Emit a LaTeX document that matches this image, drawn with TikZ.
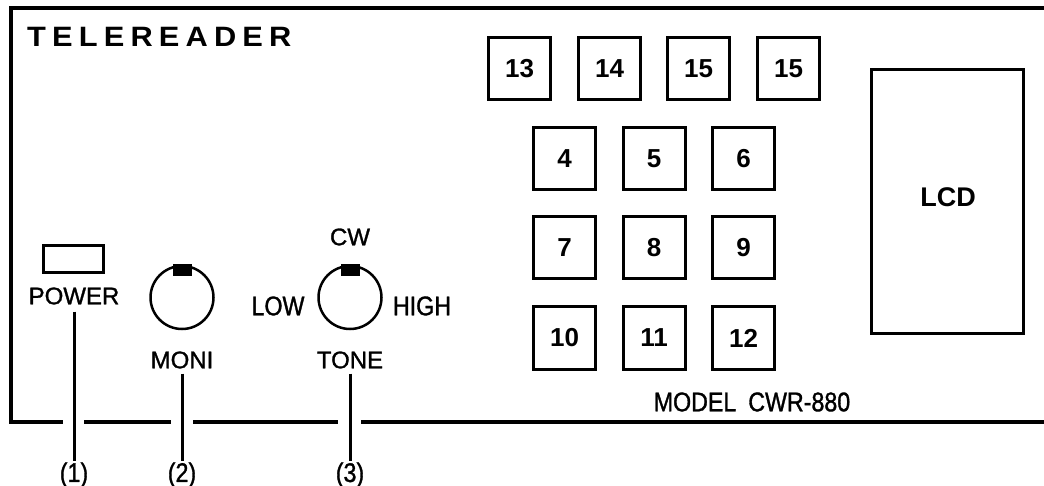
\documentclass[tikz,border=0pt]{standalone}
\usepackage{fontspec}
\setmainfont{Liberation Sans}
\newfontfamily\lblfont[FakeBold=1.2]{Liberation Sans}
\newfontfamily\narrowfont[FakeStretch=0.86,FakeBold=1.2]{Liberation Sans}
\newfontfamily\titlefont[FakeStretch=1.1,LetterSpace=22]{Liberation Sans}
\begin{document}
\begin{tikzpicture}[x=1pt,y=-1pt,
  frameline/.style={line width=4pt},
  keybox/.style={draw, line width=3pt, minimum size=62pt, inner sep=0pt,
    font=\fontsize{26}{26}\selectfont\bfseries},
  lbl/.style={inner sep=0pt, font=\lblfont\fontsize{24}{24}\selectfont},
  nlbl/.style={inner sep=0pt, font=\narrowfont\fontsize{27}{27}\selectfont},
  knob/.style={draw, circle, line width=2.5pt, minimum size=63pt, inner sep=0pt},
  indic/.style={fill=black, minimum width=19pt, minimum height=12pt, inner sep=0pt, anchor=north},
  leader/.style={line width=3pt}]
\useasboundingbox (0,0) rectangle (1044,486);

% frame
\coordinate (tr) at (1046,8);
\coordinate (tl) at (11,8);
\coordinate (bl) at (11,422);
\coordinate (g1a) at (63,422); \coordinate (g1b) at (84,422);
\coordinate (g2a) at (171,422); \coordinate (g2b) at (193,422);
\coordinate (g3a) at (338,422); \coordinate (g3b) at (361,422);
\coordinate (br) at (1046,422);
\draw[frameline] (tr) -- (tl) -- (bl) -- (g1a);
\draw[frameline] (g1b) -- (g2a);
\draw[frameline] (g2b) -- (g3a);
\draw[frameline] (g3b) -- (br);

% title
\node[anchor=west, inner sep=0pt, font=\titlefont\bfseries\fontsize{28}{28}\selectfont] (title) at (27,37) {TELEREADER};

% power
\node[draw, line width=2.5pt, minimum width=60pt, minimum height=27pt, inner sep=0pt] (pswitch) at (73.5,259) {};
\node[lbl] (power) at (74,296) {POWER};

% moni knob
\node[knob] (moni) at (182,297.5) {};
\node[indic] (moniind) at ([yshift=1pt]moni.north) {};
\node[lbl] (monil) at (182,360) {MONI};

% tone knob
\node[knob] (tone) at (350,297.5) {};
\node[indic] (toneind) at ([yshift=1pt]tone.north) {};
\node[lbl] (cw) at (350,237) {CW};
\node[nlbl] (low) at (278,306) {LOW};
\node[nlbl] (high) at (422,306) {HIGH};
\node[lbl] (tonel) at (350,360) {TONE};

% numbered labels and leaders
\node[nlbl] (n1) at (74,475) {(1)};
\node[nlbl] (n2) at (182,475) {(2)};
\node[nlbl] (n3) at (350,475) {(3)};
\draw[leader] ([yshift=-7pt]power.south) -- ([yshift=1pt]n1.north);
\draw[leader] ([yshift=-5pt]monil.south) -- ([yshift=1pt]n2.north);
\draw[leader] ([yshift=-5pt]tonel.south) -- ([yshift=1pt]n3.north);

% keys
\node[keybox] (k13) at (519.5,68.5) {13};
\node[keybox] (k14) at (609.5,68.5) {14};
\node[keybox] (k15a) at (698.5,68.5) {15};
\node[keybox] (k15b) at (788.5,68.5) {15};
\node[keybox] (k4) at (564.5,159) {4};
\node[keybox] (k5) at (654,159) {5};
\node[keybox] (k6) at (743.5,159) {6};
\node[keybox] (k7) at (564.5,248) {7};
\node[keybox] (k8) at (654,248) {8};
\node[keybox] (k9) at (743.5,248) {9};
\node[keybox] (k10) at (564.5,338) {10};
\node[keybox] (k11) at (654,338) {11};
\node[keybox] (k12) at (743.5,338) {12};

% LCD
\node[draw, line width=3pt, minimum width=152pt, minimum height=264pt, inner sep=0pt] (lcd) at (947.5,201.5) {};
\node[inner sep=0pt, font=\fontsize{27}{27}\selectfont\bfseries] (lcdl) at (948,197) {LCD};

% model
\node[nlbl] (model) at (752,402) {MODEL\hspace{12pt}CWR-880};
\end{tikzpicture}
\end{document}
